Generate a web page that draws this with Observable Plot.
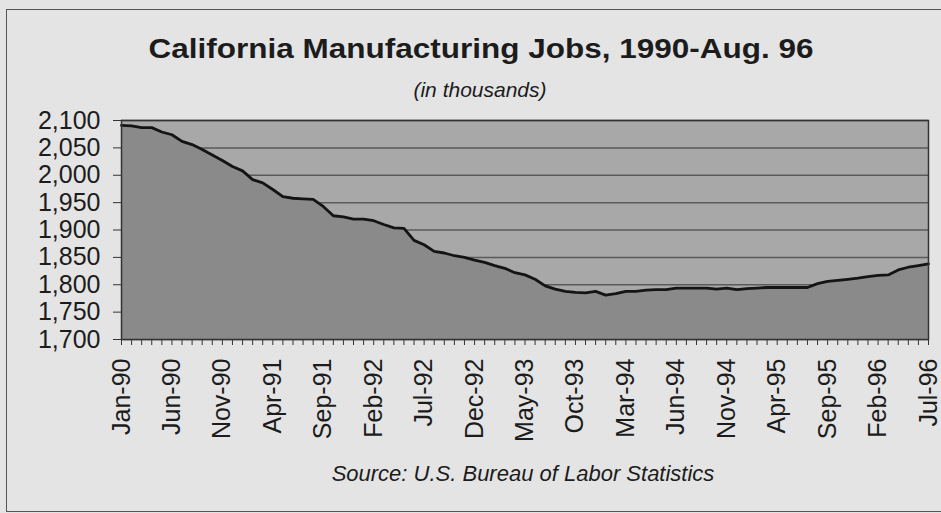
<!DOCTYPE html>
<html><head><meta charset="utf-8">
<script src="https://cdn.jsdelivr.net/npm/d3@7"></script>
<script src="https://cdn.jsdelivr.net/npm/@observablehq/plot@0.6"></script>
<style>
html,body{margin:0;padding:0;background:#e4e4e4;}
#wrap{position:relative;width:941px;height:513px;overflow:hidden;font-family:"Liberation Sans",Arial,sans-serif;color:#1c1c1c;}
#border{position:absolute;left:6px;top:9px;width:960px;height:501px;border-left:1.5px solid #555;border-top:1.5px solid #555;border-bottom:1.5px solid #555;}
.t{position:absolute;width:1000px;text-align:center;line-height:1;white-space:nowrap;}
#title{left:-19px;top:34.7px;font-size:27.5px;font-weight:bold;transform:scaleX(1.145);}
#subtitle{left:-20px;top:79px;font-size:21px;font-style:italic;}
#chart{position:absolute;left:0;top:100px;}
#caption{left:23px;top:463.4px;font-size:22px;font-style:italic;}
</style>
</head><body>
<div id="wrap">
  <div id="border"></div>
  <div id="title" class="t">California Manufacturing Jobs, 1990-Aug. 96</div>
  <div id="subtitle" class="t">(in thousands)</div>
  <div id="chart"></div>
  <div id="caption" class="t">Source: U.S. Bureau of Labor Statistics</div>
</div>
<script>
// Monthly manufacturing jobs (thousands), one value per category on the x axis
const values = [
  2091, 2090, 2087, 2087, 2079, 2074, 2062, 2056, 2047, 2037,
  2027, 2016, 2008, 1992, 1986, 1974, 1961, 1958, 1957, 1956,
  1943, 1926, 1924, 1920, 1920, 1917, 1910, 1904, 1903, 1881,
  1873, 1861, 1858, 1853, 1850, 1845, 1841, 1835, 1830, 1822,
  1818, 1810, 1798, 1792, 1788, 1786, 1785, 1788, 1781, 1784,
  1788, 1788, 1790, 1791, 1791, 1794, 1794, 1794, 1794, 1792,
  1794, 1791, 1793, 1794, 1795, 1795, 1795, 1795, 1795, 1802,
  1806, 1808, 1810, 1812, 1815, 1817, 1818, 1827, 1832, 1835,
  1838
];
// Category labels shown on the x axis (every 5th category)
const tickLabels = ["Jan-90","Jun-90","Nov-90","Apr-91","Sep-91","Feb-92","Jul-92","Dec-92",
  "May-93","Oct-93","Mar-94","Jun-94","Nov-94","Apr-95","Sep-95","Feb-96","Jul-96"];
const labelStep = 5;
const yTicks = [1700, 1750, 1800, 1850, 1900, 1950, 2000, 2050, 2100];

const data = values.map((v, i) => ({i, v}));
const labelIdx = tickLabels.map((_, k) => k * labelStep);

const chart = Plot.plot({
  width: 941, height: 360,
  marginTop: 20, marginBottom: 121, marginLeft: 121, marginRight: 13,
  style: {background: "transparent", fontFamily: "'Liberation Sans', Arial, sans-serif", fontSize: "25px", color: "#1c1c1c", overflow: "visible"},
  x: {domain: [0, values.length - 1], axis: null},
  y: {domain: [yTicks[0], yTicks[yTicks.length - 1]], axis: null},
  marks: [
    Plot.frame({fill: "#a8a8a8"}),
    Plot.ruleY(yTicks, {stroke: "#5a5a5a", strokeWidth: 1.5}),
    Plot.areaY(data, {x: "i", y1: yTicks[0], y2: "v", fill: "#8a8a8a"}),
    Plot.line(data, {x: "i", y: "v", stroke: "#141414", strokeWidth: 2.8, strokeLinejoin: "round"}),
    Plot.frame({stroke: "#333", strokeWidth: 1.5}),
    Plot.axisY({ticks: yTicks, tickFormat: d3.format(","), tickSize: 8, tickPadding: 13, stroke: "#333", label: null}),
    Plot.axisX({ticks: d3.range(values.length), tickFormat: () => "", tickSize: 6, stroke: "#333", label: null}),
    Plot.axisX({ticks: labelIdx, tickFormat: d => tickLabels[Math.round(d / labelStep)], tickRotate: -90, tickSize: 0, tickPadding: 19, label: null})
  ]
});
document.getElementById("chart").appendChild(chart);
</script>
</body></html>
